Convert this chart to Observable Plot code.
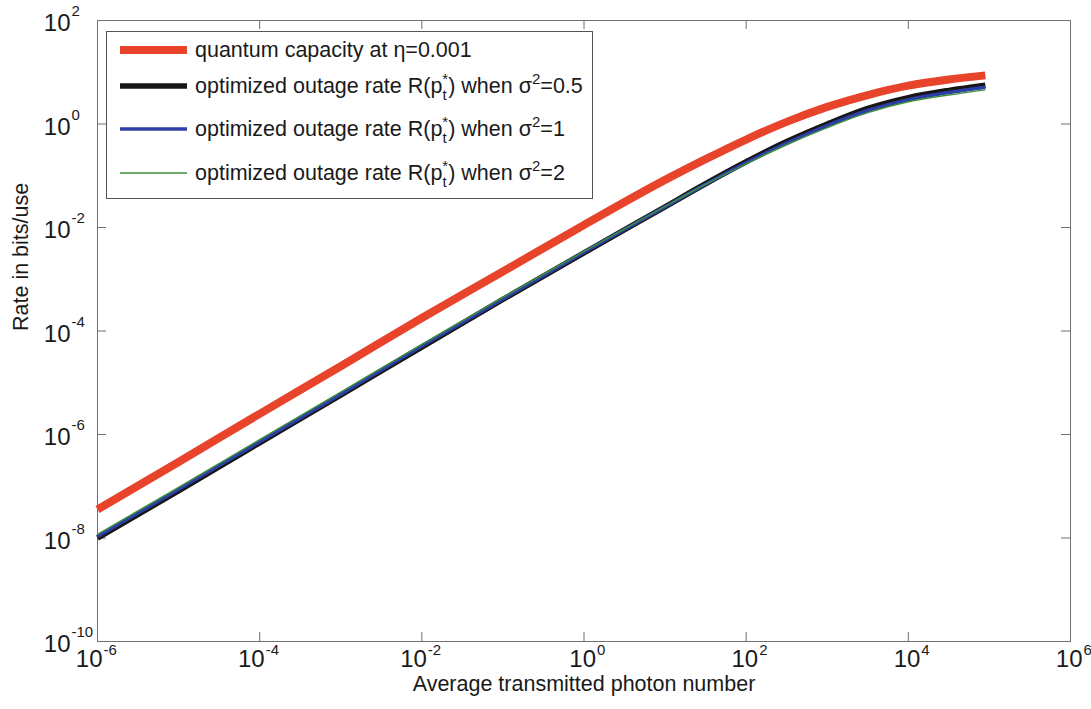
<!DOCTYPE html>
<html><head><meta charset="utf-8">
<script src="https://cdn.jsdelivr.net/npm/d3@7"></script>
<script src="https://cdn.jsdelivr.net/npm/@observablehq/plot@0.6"></script>
<style>body{margin:0;background:#fff}</style>
</head><body><div id="chart"></div>
<script>
// Average transmitted photon number (x)
const photonNumber = [1e-6, 1e-5, 1e-4, 1e-3, 1e-2, 1e-1, 1, 10, 31.6, 100, 316, 1000, 3162, 1e4, 31623, 89125];
// Rates in bits/use
const quantumCapacity = [3.55e-8, 2.95e-7, 2.51e-6, 2.09e-5, 1.78e-4, 1.41e-3, 1.12e-2, 8.32e-2, 0.209, 0.501, 1.10, 2.14, 3.63, 5.50, 7.24, 8.71];
const outageSigma05 = [1.0e-8, 8.13e-8, 6.92e-7, 5.75e-6, 4.90e-5, 4.07e-4, 3.24e-3, 2.51e-2, 7.0e-2, 0.186, 0.457, 1.0, 2.0, 3.24, 4.47, 5.62];
const outageSigma1 = [1.07e-8, 8.71e-8, 7.24e-7, 6.03e-6, 5.13e-5, 4.17e-4, 3.31e-3, 2.51e-2, 6.84e-2, 0.178, 0.427, 0.933, 1.82, 2.95, 4.07, 5.13];
const outageSigma2 = [1.17e-8, 9.55e-8, 7.94e-7, 6.61e-6, 5.50e-5, 4.47e-4, 3.47e-3, 2.57e-2, 6.84e-2, 0.170, 0.398, 0.851, 1.66, 2.69, 3.63, 4.57];
const sigmaLabels = ["0.5", "1", "2"];

const xTickValues = [1e-6, 1e-4, 1e-2, 1, 1e2, 1e4, 1e6];
const xTickExponents = ["-6", "-4", "-2", "0", "2", "4", "6"];
const yTickValues = [1e-10, 1e-8, 1e-6, 1e-4, 1e-2, 1, 1e2];
const yTickExponents = ["-10", "-8", "-6", "-4", "-2", "0", "2"];

// styles
const seriesValues = [quantumCapacity, outageSigma05, outageSigma1, outageSigma2];
const seriesColors = ["#e8432b", "#161616", "#2d3fa6", "#3d8f3d"];
const seriesWidths = [8, 5.5, 3.5, 1.5];

const W = 1091, H = 709, mL = 97, mR = 21, mT = 20, mB = 68;
const fw = W - mL - mR, fh = H - mT - mB;
const axisColor = "#707070";
const FONT = "'Liberation Sans', Arial, sans-serif";

const xTicks = xTickValues.map((v, i) => ({v, e: xTickExponents[i]}));
const yTicks = yTickValues.map((v, i) => ({v, e: yTickExponents[i]}));
const xNeg = xTicks.filter(d => d.e.startsWith("-"));
const xPos = xTicks.filter(d => !d.e.startsWith("-"));

const lineMarks = seriesValues.map((vals, k) =>
  Plot.line(photonNumber.map((x, i) => ({x, y: vals[i]})), {
    x: "x", y: "y", stroke: seriesColors[k], strokeWidth: seriesWidths[k],
    curve: "monotone-x", strokeLinecap: "butt", strokeLinejoin: "round"
  }));

const svg = Plot.plot({
  width: W, height: H, marginLeft: mL, marginRight: mR, marginTop: mT, marginBottom: mB,
  style: {fontFamily: FONT, color: "#1a1a1a", background: "#fff"},
  x: {type: "log", domain: [1e-6, 1e6], axis: null},
  y: {type: "log", domain: [1e-10, 1e2], axis: null},
  marks: [
    Plot.frame({stroke: axisColor}),
    Plot.tickX(xTickValues, {x: d => d, insetTop: fh - 9, stroke: axisColor}),
    Plot.tickX(xTickValues, {x: d => d, insetBottom: fh - 9, stroke: axisColor}),
    Plot.tickY(yTickValues, {y: d => d, insetRight: fw - 9, stroke: axisColor}),
    Plot.tickY(yTickValues, {y: d => d, insetLeft: fw - 9, stroke: axisColor}),
    ...lineMarks,
    // x tick labels
    Plot.text(xNeg, {x: "v", text: () => "10", frameAnchor: "bottom", dy: 25, dx: 5, textAnchor: "end", fontSize: 24}),
    Plot.text(xNeg, {x: "v", text: "e", frameAnchor: "bottom", dy: 13, dx: 6, textAnchor: "start", fontSize: 15}),
    Plot.text(xPos, {x: "v", text: () => "10", frameAnchor: "bottom", dy: 25, dx: 12, textAnchor: "end", fontSize: 24}),
    Plot.text(xPos, {x: "v", text: "e", frameAnchor: "bottom", dy: 13, dx: 13, textAnchor: "start", fontSize: 15}),
    // y tick labels
    Plot.text(yTicks, {y: "v", text: () => "10", frameAnchor: "left", dx: -27, dy: 3, textAnchor: "end", fontSize: 24}),
    Plot.text(yTicks, {y: "v", text: "e", frameAnchor: "left", dx: -26, dy: -9, textAnchor: "start", fontSize: 15}),
    // axis titles
    Plot.text(["Average transmitted photon number"], {text: d => d, frameAnchor: "bottom", dy: 49, fontSize: 21.5}),
    Plot.text(["Rate in bits/use"], {text: d => d, frameAnchor: "left", dx: -76, rotate: -90, fontSize: 21.5})
  ]
});
document.getElementById("chart").appendChild(svg);

// Legend (MATLAB-style box)
const lg = d3.select(svg).append("g")
  .attr("font-family", FONT).attr("font-size", 21.5).attr("fill", "#1a1a1a").attr("text-anchor", "start");
lg.append("rect").attr("x", 106.5).attr("y", 31.5).attr("width", 486).attr("height", 167)
  .attr("fill", "#fff").attr("stroke", "#555").attr("stroke-width", 1);
const rowY = [50, 86, 129, 173];
rowY.forEach((y, k) => {
  lg.append("line").attr("x1", 120).attr("x2", 187).attr("y1", y).attr("y2", y)
    .attr("stroke", seriesColors[k]).attr("stroke-width", seriesWidths[k]);
  const t = lg.append("text").attr("x", 195).attr("y", y + 7).attr("text-anchor", "start");
  if (k === 0) {
    t.text("quantum capacity at η=0.001");
  } else {
    t.append("tspan").text("optimized outage rate R(p");
    t.append("tspan").attr("font-size", 15).attr("dy", 7).text("t");
    t.append("tspan").attr("font-size", 15).attr("dx", -4.2).attr("dy", -16).text("*");
    t.append("tspan").attr("dy", 9).text(") when σ");
    t.append("tspan").attr("font-size", 15).attr("dy", -9).text("2");
    t.append("tspan").attr("dy", 9).text("=" + sigmaLabels[k - 1]);
  }
});
</script>
</body></html>
